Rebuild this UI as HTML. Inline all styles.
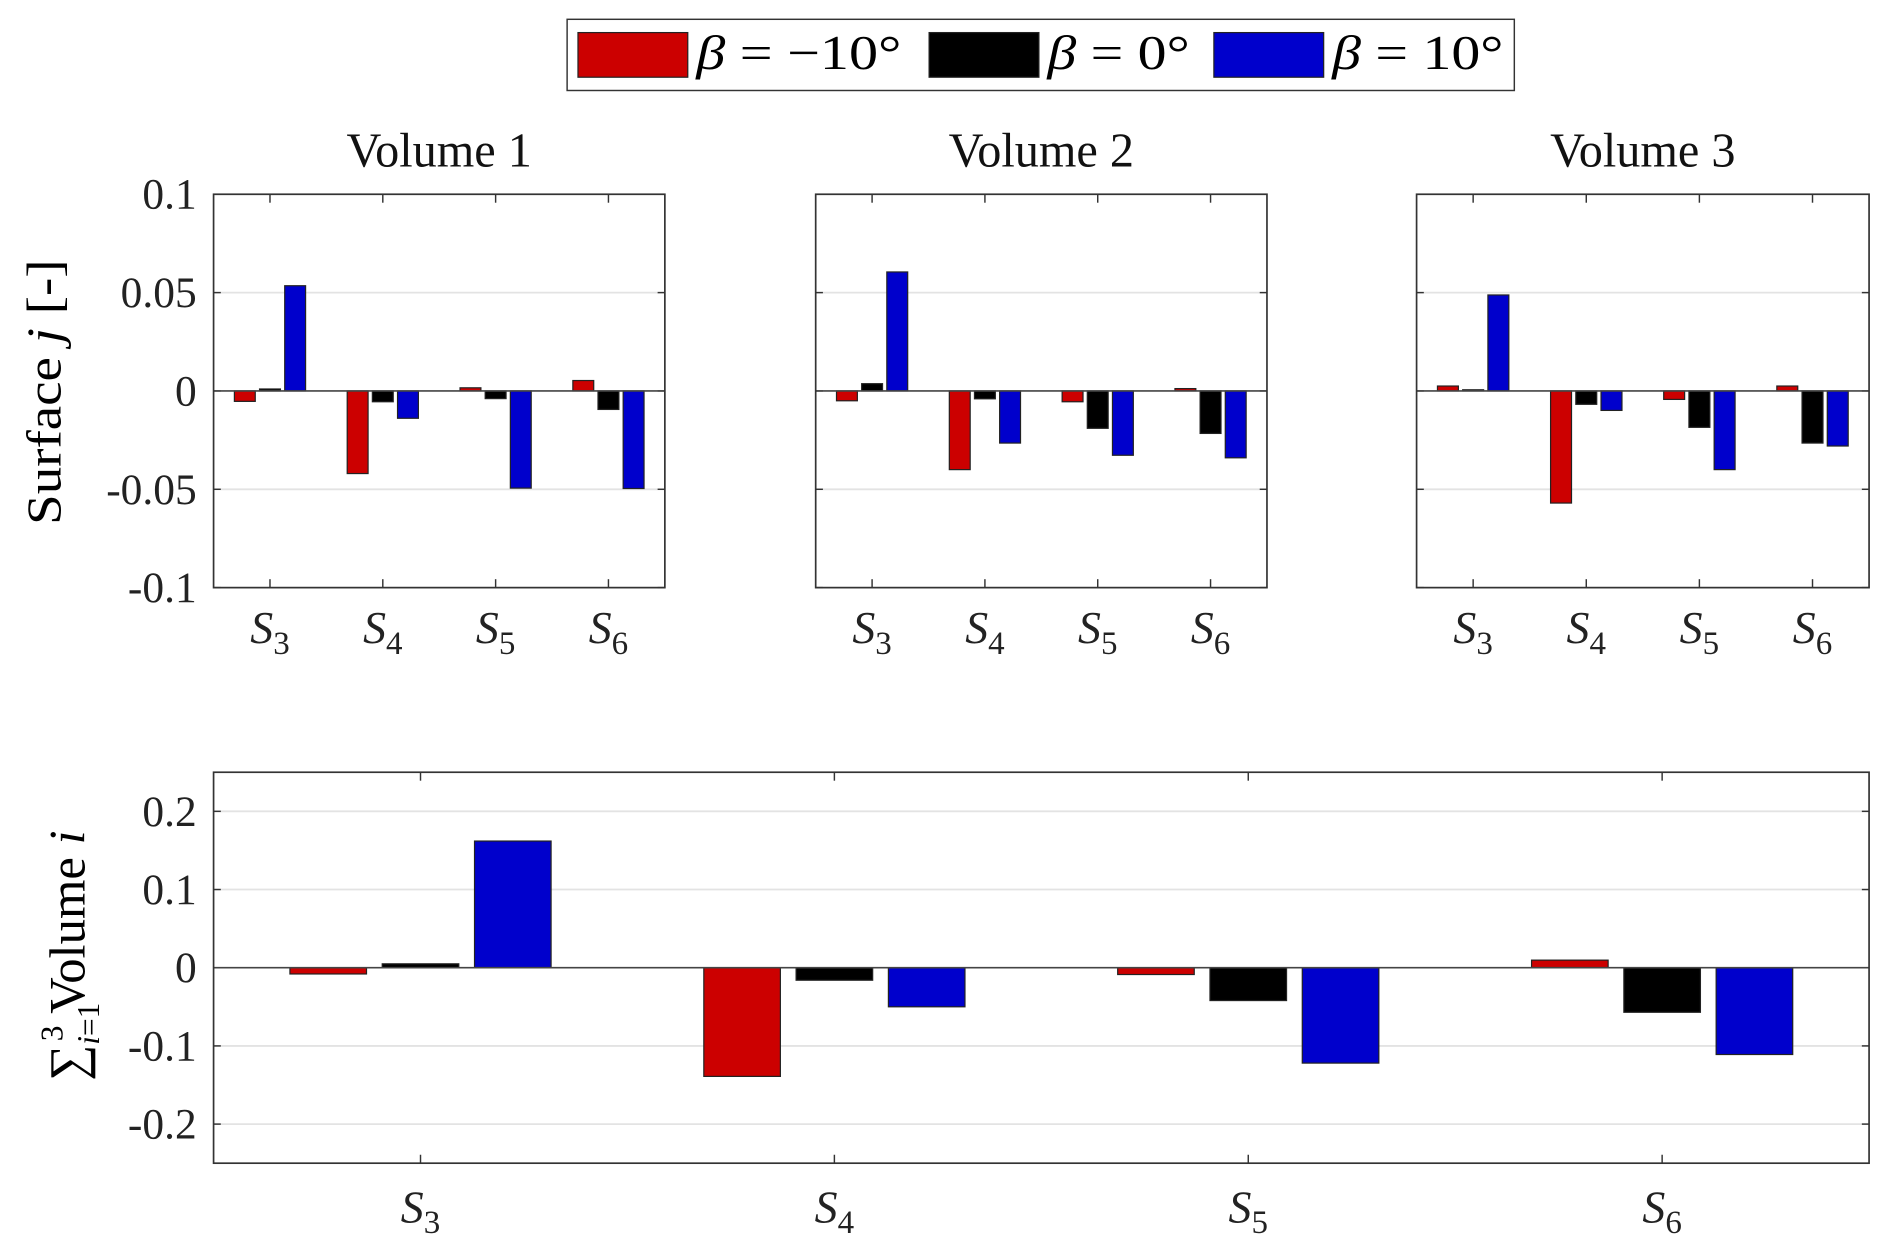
<!DOCTYPE html>
<html><head><meta charset="utf-8"><style>
html,body{margin:0;padding:0;background:#fff;}
svg{display:block;font-family:"Liberation Serif",serif;}
</style></head><body>
<svg id="fig" width="1892" height="1252" viewBox="0 0 1568 1037.6" preserveAspectRatio="none" xmlns="http://www.w3.org/2000/svg">
<g>
<rect x="470" y="16" width="785" height="59" fill="#fff" stroke="#333" stroke-width="1.2"/>
<rect x="479" y="27" width="91" height="37" fill="#cc0000" stroke="#222"/>
<text x="577" y="57" font-size="40" textLength="170" lengthAdjust="spacingAndGlyphs"><tspan font-style="italic">β</tspan> = −10°</text>
<rect x="770" y="27" width="91" height="37" fill="#000" stroke="#222"/>
<text x="868" y="57" font-size="40" textLength="118" lengthAdjust="spacingAndGlyphs"><tspan font-style="italic">β</tspan> = 0°</text>
<rect x="1006" y="27" width="91" height="37" fill="#0000cc" stroke="#222"/>
<text x="1104" y="57" font-size="40" textLength="142" lengthAdjust="spacingAndGlyphs"><tspan font-style="italic">β</tspan> = 10°</text>
</g>
<text transform="translate(50,325) rotate(-90)" text-anchor="middle" font-size="40" textLength="220" lengthAdjust="spacingAndGlyphs">Surface <tspan font-style="italic">j</tspan> [-]</text>
<text transform="translate(70,792) rotate(-90)" text-anchor="middle" font-size="42">∑<tspan font-size="26" dy="12" font-style="italic">i</tspan><tspan font-size="26">=1</tspan><tspan font-size="26" dx="-32" dy="-30">3</tspan><tspan dy="18"> Volume </tspan><tspan font-style="italic">i</tspan></text>
</svg>
<script>
const categories = ["3","4","5","6"];
const v1Neg = [-0.0053, -0.042, 0.0016, 0.0053];
const v1Zero = [0.001, -0.0055, -0.0039, -0.0094];
const v1Pos = [0.0535, -0.0139, -0.0494, -0.0496];
const v2Neg = [-0.005, -0.040, -0.0055, 0.0012];
const v2Zero = [0.0037, -0.004, -0.019, -0.0216];
const v2Pos = [0.0605, -0.0265, -0.0327, -0.034];
const v3Neg = [0.0025, -0.057, -0.0043, 0.0025];
const v3Zero = [0.0006, -0.0068, -0.0185, -0.0265];
const v3Pos = [0.0488, -0.0099, -0.040, -0.028];
const sumNeg = [-0.008, -0.139, -0.0087, 0.0097];
const sumZero = [0.005, -0.016, -0.042, -0.057];
const sumPos = [0.162, -0.05, -0.122, -0.111];
const smallTicks = [0.1, 0.05, 0, -0.05, -0.1];
const smallTickLabels = ["0.1","0.05","0","-0.05","-0.1"];
const bigTicks = [0.2, 0.1, 0, -0.1, -0.2];
const bigTickLabels = ["0.2","0.1","0","-0.1","-0.2"];
const titles = ["Volume 1","Volume 2","Volume 3"];

const NS="http://www.w3.org/2000/svg";
const svg=document.getElementById('fig');
function mk(tag,attrs,parent){const e=document.createElementNS(NS,tag);for(const k in attrs)e.setAttribute(k,attrs[k]);(parent||svg).appendChild(e);return e;}

function drawAxes(name,x0,x1,y0,y1,ymin,ymax,ticks,tickLabels,series,title,catFont,catY,showY){
  const g=mk('g',{});
  
  
  const xs=v=>x0+(v-0.5)/4*(x1-x0);
  const ys=v=>y0+(ymax-v)/(ymax-ymin)*(y1-y0);
  mk('rect',{x:x0,y:y0,width:x1-x0,height:y1-y0,fill:'#fff'},g);
  ticks.forEach((t,i)=>{
    const y=ys(t);
    if(t!==0){const gl=mk('line',{x1:x0,x2:x1,y1:y,y2:y,stroke:'#e3e3e3','stroke-width':1.5},g);
      
      }
    mk('line',{x1:x0,x2:x0+6,y1:y,y2:y,stroke:'#333','stroke-width':1.2},g);
    mk('line',{x1:x1-6,x2:x1,y1:y,y2:y,stroke:'#333','stroke-width':1.2},g);
    if(showY){
      const tl=mk('text',{x:x0-14,y:y+12,'text-anchor':'end','font-size':36,fill:'#222'},g);
      tl.textContent=tickLabels[i];
      
      
    }
  });
  const colors=['#cc0000','#000000','#0000cc'];
  const names=['neg10','zero','pos10'];
  const bw=(x1-x0)/4*0.185, off=0.223;
  categories.forEach((c,ci)=>{
    const cx=xs(ci+1);
    mk('line',{x1:cx,x2:cx,y1:y0,y2:y0+7,stroke:'#333','stroke-width':1.2},g);
    mk('line',{x1:cx,x2:cx,y1:y1-7,y2:y1,stroke:'#333','stroke-width':1.2},g);
    series.forEach((arr,si)=>{
      const bx=xs(ci+1+(si-1)*off)-bw/2;
      const v=arr[ci];
      const ya=ys(Math.max(v,0)), yb=ys(Math.min(v,0));
      const r=mk('rect',{x:bx,y:ya,width:bw,height:Math.max(yb-ya,0.5),fill:colors[si],stroke:'#222','stroke-width':1},g);
      
      
    });
    const t=mk('text',{x:cx,y:catY,'text-anchor':'middle','font-size':catFont,fill:'#222'},g);
    t.innerHTML='<tspan font-style="italic">S</tspan><tspan font-size="'+(catFont*0.72)+'" dy="9">'+c+'</tspan>';
    
    
  });
  mk('line',{x1:x0,x2:x1,y1:ys(0),y2:ys(0),stroke:'#444','stroke-width':1.3},g);
  mk('rect',{x:x0,y:y0,width:x1-x0,height:y1-y0,fill:'none',stroke:'#333','stroke-width':1.4},g);
  if(title){const tt=mk('text',{x:(x0+x1)/2,y:y0-23,'text-anchor':'middle','font-size':40,fill:'#111'},g);
    tt.textContent=title;
    
    }
}
drawAxes('volume-1-axes',177,551,161,487,-0.1,0.1,smallTicks,smallTickLabels,[v1Neg,v1Zero,v1Pos],titles[0],38,533,true);
drawAxes('volume-2-axes',676,1050,161,487,-0.1,0.1,smallTicks,smallTickLabels,[v2Neg,v2Zero,v2Pos],titles[1],38,533,false);
drawAxes('volume-3-axes',1174,1549,161,487,-0.1,0.1,smallTicks,smallTickLabels,[v3Neg,v3Zero,v3Pos],titles[2],38,533,false);
drawAxes('sum-axes',177,1549,640,964,-0.25,0.25,bigTicks,bigTickLabels,[sumNeg,sumZero,sumPos],null,38,1013,true);
</script>
</body></html>
